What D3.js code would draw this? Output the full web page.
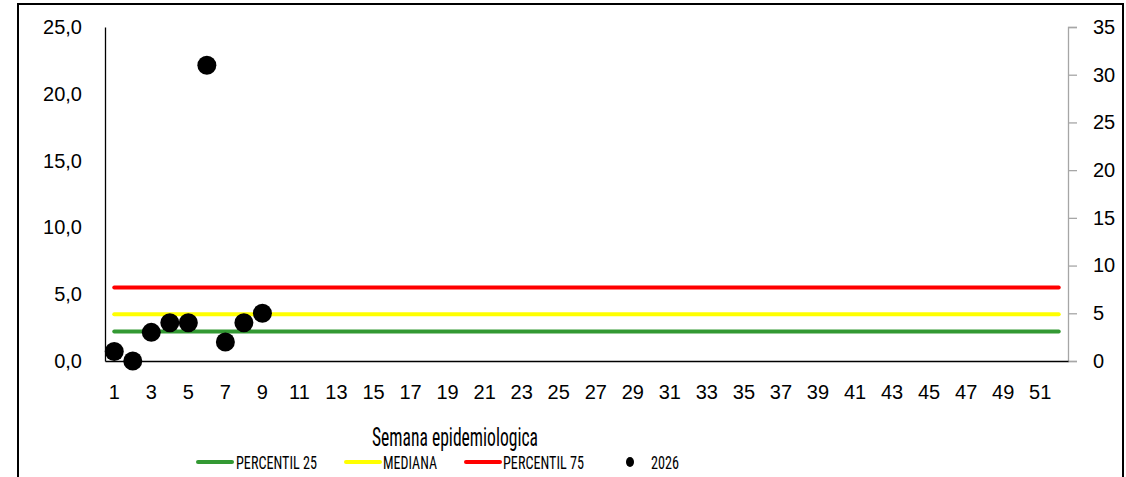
<!DOCTYPE html>
<html>
<head>
<meta charset="utf-8">
<script src="https://cdn.jsdelivr.net/npm/d3@7"></script>
<style>
  body { margin: 0; background: #fff; }
  svg text { font-family: "Liberation Sans", Arial, sans-serif; fill: #000; }
  .narrow { font-family: "Liberation Sans Narrow", "Roboto Condensed", "DejaVu Sans Condensed", sans-serif; }
</style>
</head>
<body>
<script>
// weeks 1..52
var weeks = d3.range(1, 53);

// reference lines (left axis)
var p25 = [2.2,2.2,2.2,2.2,2.2,2.2,2.2,2.2,2.2,2.2,2.2,2.2,2.2,2.2,2.2,2.2,2.2,2.2,2.2,2.2,2.2,2.2,2.2,2.2,2.2,2.2,
           2.2,2.2,2.2,2.2,2.2,2.2,2.2,2.2,2.2,2.2,2.2,2.2,2.2,2.2,2.2,2.2,2.2,2.2,2.2,2.2,2.2,2.2,2.2,2.2,2.2,2.2];
var mediana = [3.5,3.5,3.5,3.5,3.5,3.5,3.5,3.5,3.5,3.5,3.5,3.5,3.5,3.5,3.5,3.5,3.5,3.5,3.5,3.5,3.5,3.5,3.5,3.5,3.5,3.5,
               3.5,3.5,3.5,3.5,3.5,3.5,3.5,3.5,3.5,3.5,3.5,3.5,3.5,3.5,3.5,3.5,3.5,3.5,3.5,3.5,3.5,3.5,3.5,3.5,3.5,3.5];
var p75 = [5.5,5.5,5.5,5.5,5.5,5.5,5.5,5.5,5.5,5.5,5.5,5.5,5.5,5.5,5.5,5.5,5.5,5.5,5.5,5.5,5.5,5.5,5.5,5.5,5.5,5.5,
           5.5,5.5,5.5,5.5,5.5,5.5,5.5,5.5,5.5,5.5,5.5,5.5,5.5,5.5,5.5,5.5,5.5,5.5,5.5,5.5,5.5,5.5,5.5,5.5,5.5,5.5];

// 2026 cases (right axis)
var weeks2026 = [1, 2, 3, 4, 5, 6, 7, 8, 9];
var cases2026 = [1, 0, 3, 4, 4, 31, 2, 4, 5];

var leftTicks = [0, 5, 10, 15, 20, 25];
var rightTicks = [0, 5, 10, 15, 20, 25, 30, 35];

var W = 1126, H = 477;
var margin = {top: 27, right: 58, bottom: 116, left: 105};

var svg = d3.select("body").append("svg")
  .attr("width", W)
  .attr("height", H);

// outer frame
svg.append("rect")
  .attr("x", 18).attr("y", 4)
  .attr("width", 1105).attr("height", 500)
  .attr("fill", "none")
  .attr("stroke", "#000")
  .attr("stroke-width", 2);

var x = d3.scaleBand().domain(weeks).range([margin.left, W - margin.right]);
var yL = d3.scaleLinear().domain([0, 25]).range([H - margin.bottom, margin.top]);
var yR = d3.scaleLinear().domain([0, 35]).range([H - margin.bottom, margin.top]);
var cx = function(w) { return x(w) + x.bandwidth() / 2; };

// left axis
var gL = svg.append("g")
  .attr("transform", "translate(" + margin.left + ",0)")
  .call(d3.axisLeft(yL).tickValues(leftTicks).tickSize(0).tickPadding(23)
    .tickFormat(function(d) { return d3.format(".1f")(d).replace(".", ","); }));
gL.select(".domain").attr("stroke", "#000").attr("stroke-width", 1.3);
gL.selectAll("text").style("font-size", "20px");

// right axis
var gR = svg.append("g")
  .attr("transform", "translate(" + (W - margin.right) + ",0)")
  .call(d3.axisRight(yR).tickValues(rightTicks).tickSize(9).tickPadding(16));
gR.select(".domain").attr("stroke", "#a6a6a6").attr("stroke-width", 1.3);
gR.selectAll(".tick line").attr("stroke", "#a6a6a6").attr("stroke-width", 1.3);
gR.selectAll("text").style("font-size", "20px");

// bottom axis
var gB = svg.append("g")
  .attr("transform", "translate(0," + (H - margin.bottom) + ")")
  .call(d3.axisBottom(x).tickSize(0).tickPadding(24)
    .tickValues(weeks.filter(function(w) { return w % 2 === 1; })));
gB.select(".domain").attr("stroke", "#000").attr("stroke-width", 1.3);
gB.selectAll("text").style("font-size", "20px");

// reference lines
var series = [
  {name: "PERCENTIL 25", values: p25, color: "#339933"},
  {name: "MEDIANA", values: mediana, color: "#ffff00"},
  {name: "PERCENTIL 75", values: p75, color: "#ff0000"}
];
var line = d3.line()
  .x(function(d, i) { return cx(weeks[i]); })
  .y(function(d) { return yL(d); });

series.forEach(function(s) {
  svg.append("path")
    .datum(s.values)
    .attr("d", line)
    .attr("fill", "none")
    .attr("stroke", s.color)
    .attr("stroke-width", 4)
    .attr("stroke-linecap", "round");
});

// 2026 points
svg.selectAll("circle.pt").data(cases2026)
  .enter().append("circle")
  .attr("class", "pt")
  .attr("cx", function(d, i) { return cx(weeks2026[i]); })
  .attr("cy", function(d) { return yR(d); })
  .attr("r", 9.5)
  .attr("fill", "#000");

// x axis title
svg.append("text")
  .attr("class", "narrow")
  .attr("x", 455).attr("y", 446)
  .attr("text-anchor", "middle")
  .attr("textLength", 166).attr("lengthAdjust", "spacingAndGlyphs")
  .style("font-size", "25px")
  .text("Semana epidemiologica");

// legend
var legY = 462;
var legend = [
  {name: "PERCENTIL 25", color: "#339933", x1: 198, tx: 236, tw: 81},
  {name: "MEDIANA", color: "#ffff00", x1: 346, tx: 383, tw: 54},
  {name: "PERCENTIL 75", color: "#ff0000", x1: 466, tx: 503, tw: 81}
];
legend.forEach(function(l) {
  svg.append("line")
    .attr("x1", l.x1).attr("x2", l.x1 + 34)
    .attr("y1", legY).attr("y2", legY)
    .attr("stroke", l.color).attr("stroke-width", 4)
    .attr("stroke-linecap", "round");
  svg.append("text")
    .attr("class", "narrow")
    .attr("x", l.tx).attr("y", legY + 7)
    .attr("textLength", l.tw).attr("lengthAdjust", "spacingAndGlyphs")
    .style("font-size", "19px")
    .text(l.name);
});
svg.append("ellipse")
  .attr("cx", 630).attr("cy", legY).attr("rx", 4).attr("ry", 5)
  .attr("fill", "#000");
svg.append("text")
  .attr("class", "narrow")
  .attr("x", 651).attr("y", legY + 7)
  .attr("textLength", 28).attr("lengthAdjust", "spacingAndGlyphs")
  .style("font-size", "19px")
  .text("2026");
</script>
</body>
</html>
